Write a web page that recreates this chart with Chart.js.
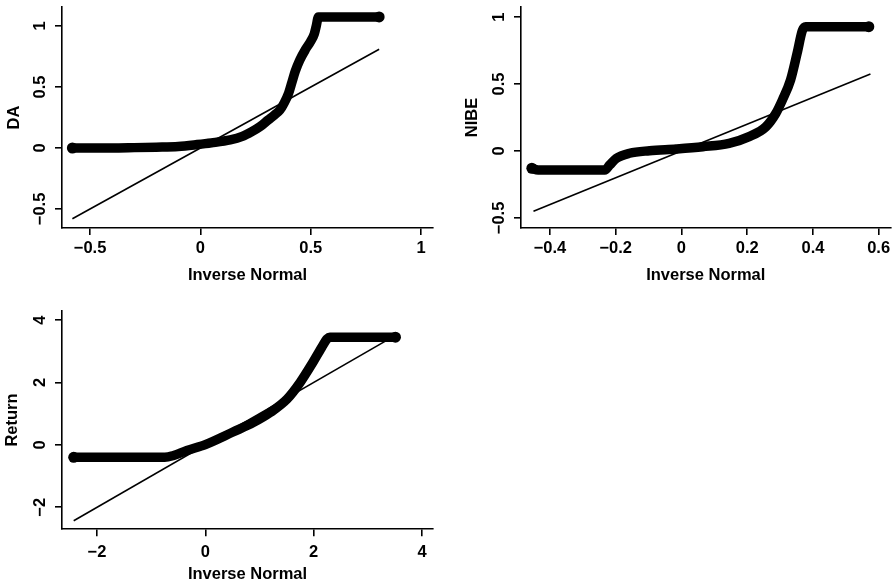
<!DOCTYPE html>
<html><head><meta charset="utf-8">
<script src="https://cdn.jsdelivr.net/npm/chart.js@4.4.1/dist/chart.umd.min.js"></script>
<style>
html,body{margin:0;padding:0;background:#fff;}
body{width:896px;height:585px;position:relative;overflow:hidden;}
canvas{position:absolute;}
</style></head><body>
<canvas id="c1" width="448" height="290" style="left:0;top:0"></canvas>
<canvas id="c2" width="448" height="290" style="left:448px;top:0"></canvas>
<canvas id="c3" width="448" height="295" style="left:0;top:290px"></canvas>
<script>
// ---- DA panel ----
const daQuantiles = [-0.58, -0.55, -0.5, -0.4, -0.3, -0.2, -0.1, -0.015, 0.05, 0.135, 0.19, 0.233, 0.27, 0.307, 0.335, 0.36, 0.38, 0.40, 0.415, 0.43, 0.45, 0.477, 0.50, 0.516, 0.525, 0.535, 0.6, 0.7, 0.81];
const daValues    = [0.0, 0.0, 0.0, 0.0, 0.003, 0.007, 0.013, 0.028, 0.042, 0.066, 0.095, 0.134, 0.175, 0.23, 0.27, 0.31, 0.37, 0.45, 0.54, 0.63, 0.72, 0.81, 0.875, 0.935, 1.0, 1.075, 1.075, 1.075, 1.075];
const daRefLine   = [-0.58, 0.81];
const daXTicks = [-0.5, 0, 0.5, 1];
const daXLabels = ['\u22120.5', '0', '0.5', '1'];
const daYTicks = [-0.5, 0, 0.5, 1];
const daYLabels = ['\u22120.5', '0', '0.5', '1'];

// ---- NIBE panel ----
const nibeQuantiles = [-0.455, -0.436, -0.35, -0.27, -0.233, -0.218, -0.198, -0.158, -0.097, -0.016, 0.065, 0.145, 0.206, 0.257, 0.287, 0.307, 0.332, 0.352, 0.368, 0.378, 0.45, 0.52, 0.57];
const nibeValues    = [-0.129, -0.142, -0.142, -0.142, -0.142, -0.104, -0.055, -0.017, 0.002, 0.015, 0.032, 0.057, 0.107, 0.181, 0.28, 0.38, 0.53, 0.73, 0.90, 0.928, 0.928, 0.928, 0.928];
const nibeRefLine   = [-0.45, 0.575];
const nibeXTicks = [-0.4, -0.2, 0, 0.2, 0.4, 0.6];
const nibeXLabels = ['\u22120.4', '\u22120.2', '0', '0.2', '0.4', '0.6'];
const nibeYTicks = [-0.5, 0, 0.5, 1];
const nibeYLabels = ['\u22120.5', '0', '0.5', '1'];

// ---- Return panel ----
const retQuantiles = [-2.43, -2.2, -1.8, -1.4, -1.0, -0.75, -0.585, -0.34, 0.0, 0.52, 0.89, 1.20, 1.51, 1.75, 1.97, 2.15, 2.25, 2.3, 2.7, 3.1, 3.51];
const retValues    = [-0.40, -0.40, -0.40, -0.40, -0.40, -0.40, -0.34, -0.18, 0.01, 0.42, 0.72, 1.04, 1.47, 2.0, 2.6, 3.13, 3.4, 3.45, 3.45, 3.45, 3.45];
const retRefLine   = [-2.43, 3.42];
const retXTicks = [-2, 0, 2, 4];
const retXLabels = ['\u22122', '0', '2', '4'];
const retYTicks = [-2, 0, 2, 4];
const retYLabels = ['\u22122', '0', '2', '4'];

const FAMILY = '"Liberation Sans", Arial, Helvetica, sans-serif';
const FSIZE = 16.5;
const FONT = {family: FAMILY, size: FSIZE, weight: 'bold'};
const TL = 7;

function widest(labels) {
  const c = document.createElement('canvas').getContext('2d');
  c.font = 'bold ' + FSIZE + 'px ' + FAMILY;
  return Math.max(...labels.map(l => c.measureText(l).width));
}
function zeroPad(s) { s.paddingLeft = 0; s.paddingRight = 0; s.paddingTop = 0; s.paddingBottom = 0; }

function panel(id, o) {
  const pts = o.q.map((x, i) => ({x: x, y: o.v[i]}));
  const ref = o.ref.map(v => ({x: v, y: v}));
  const n = pts.length;
  const yPad = 22 - TL - widest(o.yLabels) / 2;
  new Chart(document.getElementById(id), {
    type: 'scatter',
    data: {datasets: [
      {data: pts, showLine: true, borderColor: '#000', backgroundColor: '#000', borderWidth: 9.5,
       borderCapStyle: 'round', borderJoinStyle: 'round', cubicInterpolationMode: 'monotone',
       pointRadius: c => (c.dataIndex === 0 || c.dataIndex === n - 1) ? 5.5 : 0,
       pointBorderWidth: 0, pointHoverRadius: 0},
      {data: ref, showLine: true, borderColor: '#000', borderWidth: 1.6, pointRadius: 0}
    ]},
    options: {
      responsive: false, animation: false, events: [],
      layout: {padding: {left: 0, right: o.padR, top: o.padT, bottom: 0}},
      plugins: {legend: {display: false}, tooltip: {enabled: false}},
      scales: {
        x: {type: 'linear', position: 'bottom', min: o.xMin, max: o.xMax,
          afterBuildTicks: s => { s.ticks = o.xTicks.map(v => ({value: v})); },
          afterFit: s => { s.height = o.xH; zeroPad(s); },
          ticks: {autoSkip: false, minRotation: 0, maxRotation: 0, padding: o.xTickPad, color: '#000', font: FONT,
                  callback: v => o.xLabels[o.xTicks.indexOf(v)]},
          grid: {display: true, drawOnChartArea: false, drawTicks: true, tickLength: TL, color: '#000', lineWidth: 1.6},
          border: {display: true, color: '#000', width: 1.6},
          title: {display: true, text: 'Inverse Normal', color: '#000', font: FONT, padding: {top: 0, bottom: o.xTitlePad}}
        },
        y: {type: 'linear', position: 'left', min: o.yMin, max: o.yMax,
          afterBuildTicks: s => { s.ticks = o.yTicks.map(v => ({value: v})); },
          afterFit: s => { s.width = o.yW; zeroPad(s); },
          ticks: {autoSkip: false, minRotation: 90, maxRotation: 90, crossAlign: 'center', padding: yPad, color: '#000', font: FONT,
                  callback: v => o.yLabels[o.yTicks.indexOf(v)]},
          grid: {display: true, drawOnChartArea: false, drawTicks: true, tickLength: TL, color: '#000', lineWidth: 1.6},
          border: {display: true, color: '#000', width: 1.6},
          title: {display: true, text: o.yTitle, color: '#000', font: FONT, padding: {top: o.yTitlePad, bottom: 0}}
        }
      }
    }
  });
}

panel('c1', {q: daQuantiles, v: daValues, ref: daRefLine, xTicks: daXTicks, xLabels: daXLabels, yTicks: daYTicks, yLabels: daYLabels,
  yTitle: 'DA', xMin: -0.627, xMax: 1.054, yMin: -0.656, yMax: 1.156, padR: 15, padT: 7, yW: 62, xH: 62,
  xTickPad: 4, xTitlePad: 5, yTitlePad: 5});
panel('c2', {q: nibeQuantiles, v: nibeValues, ref: nibeRefLine, xTicks: nibeXTicks, xLabels: nibeXLabels, yTicks: nibeYTicks, yLabels: nibeYLabels,
  yTitle: 'NIBE', xMin: -0.488, xMax: 0.636, yMin: -0.575, yMax: 1.075, padR: 4, padT: 7, yW: 73, xH: 62,
  xTickPad: 4, xTitlePad: 5, yTitlePad: 15});
panel('c3', {q: retQuantiles, v: retValues, ref: retRefLine, xTicks: retXTicks, xLabels: retXLabels, yTicks: retYTicks, yLabels: retYLabels,
  yTitle: 'Return', xMin: -2.646, xMax: 4.203, yMin: -2.705, yMax: 4.30, padR: 15, padT: 20.7, yW: 62, xH: 55.7,
  xTickPad: 6, xTitlePad: 1, yTitlePad: 3});
</script>
</body></html>
